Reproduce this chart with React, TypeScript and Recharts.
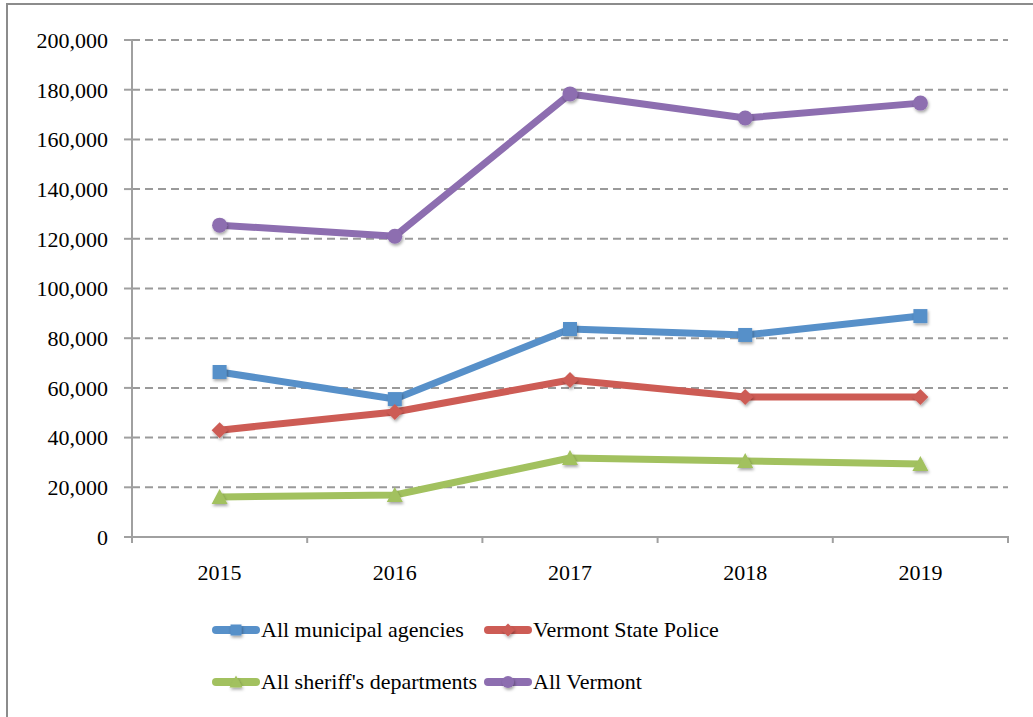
import React from "react";
import {LineChart, Line, XAxis, YAxis, CartesianGrid} from "recharts";

const years = ["2015", "2016", "2017", "2018", "2019"];
const municipal = [66400, 55500, 83700, 81300, 88900];
const statePolice = [43000, 50300, 63200, 56300, 56300];
const sheriffs = [16100, 16900, 31800, 30600, 29400];
const allVermont = [125500, 121000, 178300, 168600, 174600];
const yTicks = [0, 20000, 40000, 60000, 80000, 100000, 120000, 140000, 160000, 180000, 200000];

const series = [
  {key: "municipal", name: "All municipal agencies", color: "#5790c9", shape: "square"},
  {key: "statePolice", name: "Vermont State Police", color: "#cd5c55", shape: "diamond"},
  {key: "sheriffs", name: "All sheriff's departments", color: "#a2c15f", shape: "triangle"},
  {key: "allVermont", name: "All Vermont", color: "#8d6eb0", shape: "circle"},
];

const data = years.map((year, i) => ({
  year,
  municipal: municipal[i],
  statePolice: statePolice[i],
  sheriffs: sheriffs[i],
  allVermont: allVermont[i],
}));

const W = 1033;
const H = 717;
const margin = {top: 40, right: 25, bottom: 120, left: 12};
const yAxisWidth = 120;
const band = (W - margin.left - yAxisWidth - margin.right) / years.length;
const font = "Liberation Serif, DejaVu Serif, Noto Serif, serif";
const axisGray = "#a0a0a0";

function Marker({shape, color, cx, cy, size = 7}: any) {
  const s = size;
  if (shape === "square")
    return <rect x={cx - s} y={cy - s} width={s * 2} height={s * 2} fill={color} />;
  if (shape === "diamond")
    return (
      <polygon
        points={`${cx},${cy - s - 1} ${cx + s + 1},${cy} ${cx},${cy + s + 1} ${cx - s - 1},${cy}`}
        fill={color}
      />
    );
  if (shape === "triangle")
    return <polygon points={`${cx},${cy - s - 1} ${cx + s + 1},${cy + s} ${cx - s - 1},${cy + s}`} fill={color} />;
  return <circle cx={cx} cy={cy} r={s + 0.5} fill={color} />;
}

function YearTick({x, y, payload, index}: any) {
  const last = index === years.length - 1;
  return (
    <g>
      <line x1={x - band / 2} x2={x - band / 2} y1={y} y2={y + 6} stroke={axisGray} strokeWidth={2} />
      {last && <line x1={x + band / 2} x2={x + band / 2} y1={y - 1} y2={y + 6} stroke={axisGray} strokeWidth={2} />}
      <text x={x} y={y + 43} textAnchor="middle" fill="#000" fontSize={22} fontFamily={font}>
        {payload.value}
      </text>
    </g>
  );
}

function LegendItem({item, index}: any) {
  const col = index % 2;
  const row = Math.floor(index / 2);
  const left = col === 0 ? 212 : 484;
  const top = row === 0 ? 616 : 668;
  return (
    <div style={{position: "absolute", left, top, display: "flex", alignItems: "center", whiteSpace: "nowrap"}}>
      <svg width={48} height={28} style={{display: "block"}}>
        <line x1={4} x2={44} y1={14} y2={14} stroke={item.color} strokeWidth={8} strokeLinecap="round" />
        <g filter="url(#mshadow)">
          <Marker shape={item.shape} color={item.color} cx={24} cy={14} size={5.5} />
        </g>
      </svg>
      <span style={{fontFamily: font, fontSize: 22, lineHeight: "28px", color: "#000", marginLeft: 1}}>{item.name}</span>
    </div>
  );
}

export default function App() {
  return (
    <div style={{position: "absolute", left: 0, top: 0, width: W, height: H, overflow: "hidden", background: "#fff"}}>
      <svg width={0} height={0} style={{position: "absolute"}}>
        <defs>
          <filter id="mshadow" x="-50%" y="-50%" width="200%" height="200%">
            <feDropShadow dx={1} dy={2} stdDeviation={1.5} floodColor="#000" floodOpacity={0.35} />
          </filter>
        </defs>
      </svg>
      <div
        style={{
          position: "absolute",
          left: 6,
          top: 3,
          width: W + 20,
          height: H + 20,
          borderLeft: "2px solid #8c8c8c",
          borderTop: "2px solid #8c8c8c",
        }}
      />
      <div style={{position: "absolute", left: 0, top: 0}}>
        <LineChart width={W} height={H} data={data} margin={margin}>
          <CartesianGrid vertical={false} stroke="#9a9a9a" strokeWidth={2} strokeDasharray="8 5" />
          <XAxis
            dataKey="year"
            scale="band"
            height={60}
            axisLine={{stroke: axisGray, strokeWidth: 2}}
            tickLine={false}
            tickSize={0}
            tickMargin={0}
            interval={0}
            tick={<YearTick />}
          />
          <YAxis
            width={yAxisWidth}
            domain={[0, 200000]}
            ticks={yTicks}
            interval={0}
            axisLine={{stroke: axisGray, strokeWidth: 2}}
            tickLine={{stroke: axisGray, strokeWidth: 2}}
            tickSize={8}
            tickMargin={16}
            tickFormatter={(v: number) => v.toLocaleString("en-US")}
            tick={{fill: "#000", fontSize: 22, fontFamily: font}}
          />
          {series.map((s) => (
            <Line
              key={s.key}
              dataKey={s.key}
              name={s.name}
              type="linear"
              stroke={s.color}
              strokeWidth={7}
              strokeLinejoin="round"
              isAnimationActive={false}
              activeDot={false}
              dot={(p: any) => (
                <g key={`${s.key}-${p.index}`} filter="url(#mshadow)">
                  <Marker shape={s.shape} color={s.color} cx={p.cx} cy={p.cy} />
                </g>
              )}
            />
          ))}
        </LineChart>
      </div>
      {series.map((s, i) => (
        <LegendItem key={s.key} item={s} index={i} />
      ))}
    </div>
  );
}
